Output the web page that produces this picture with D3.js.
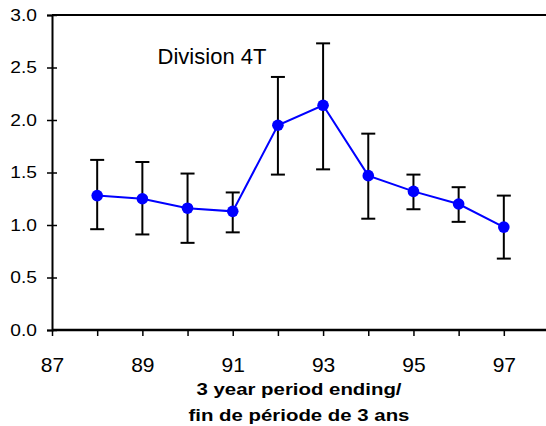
<!DOCTYPE html>
<html>
<head>
<meta charset="utf-8">
<script src="https://cdn.jsdelivr.net/npm/d3@7"></script>
<style>
  body { margin: 0; background: #fff; }
  text { font-family: "Liberation Sans", Arial, sans-serif; fill: #000; }
</style>
</head>
<body>
<div id="container"></div>
<script>
const years = [88, 89, 90, 91, 92, 93, 94, 95, 96, 97];
const values = [1.28, 1.25, 1.16, 1.13, 1.95, 2.14, 1.47, 1.32, 1.20, 0.98];
const upper = [1.62, 1.60, 1.49, 1.31, 2.41, 2.73, 1.87, 1.48, 1.36, 1.28];
const lower = [0.96, 0.91, 0.83, 0.93, 1.48, 1.53, 1.06, 1.15, 1.03, 0.68];
const yTicks = [0, 0.5, 1.0, 1.5, 2.0, 2.5, 3.0];
const xTicks = [87, 88, 89, 90, 91, 92, 93, 94, 95, 96, 97, 98];
const title = 'Division 4T';
const xTitle = ['3 year period ending/', 'fin de période de 3 ans'];

const width = 546;
const height = 426;
const plotLeft = 52;
const plotTop = 15;
const plotBottom = 330;

const data = years.map((yr, i) => ({ year: yr, value: values[i], hi: upper[i], lo: lower[i] }));

const x = d3.scaleLinear().domain([87, 98]).range([plotLeft, 549]);
const y = d3.scaleLinear().domain([0, 3]).range([plotBottom, plotTop]);

const svg = d3.select('#container').append('svg')
    .attr('width', width)
    .attr('height', height);

// top frame line
svg.append('line')
    .attr('x1', plotLeft).attr('x2', width)
    .attr('y1', plotTop).attr('y2', plotTop)
    .style('stroke', '#000').style('stroke-width', 2);

// y axis
const yAxis = svg.append('g')
    .attr('transform', `translate(${plotLeft} 0)`)
    .call(d3.axisLeft(y).tickValues(yTicks).tickSize(5).tickPadding(10).tickFormat(d3.format('.1f')));
yAxis.select('.domain').style('stroke-width', 2);
yAxis.selectAll('.tick line').attr('x1', 5).style('stroke-width', 1.5);
yAxis.selectAll('.tick text')
    .attr('x', -15 / 1.2)
    .attr('transform', 'scale(1.2 1)')
    .style('font-size', '16px');

// x axis
const xAxis = svg.append('g')
    .attr('transform', `translate(0 ${plotBottom})`)
    .call(d3.axisBottom(x).tickValues(xTicks).tickSize(6).tickPadding(21)
        .tickFormat((d) => d % 2 === 1 && d < 98 ? d : ''));
xAxis.select('.domain').attr('d', `M${plotLeft},0H${width}`).style('stroke-width', 2.5);
xAxis.selectAll('.tick line').style('stroke-width', 1.5);
xAxis.selectAll('.tick text').style('font-size', '21px');

// error bars
const err = svg.append('g').selectAll('g').data(data).enter().append('g')
    .style('stroke', '#000').style('stroke-width', 2);
err.append('line')
    .attr('x1', (d) => x(d.year)).attr('x2', (d) => x(d.year))
    .attr('y1', (d) => y(d.hi)).attr('y2', (d) => y(d.lo));
err.append('line')
    .attr('x1', (d) => x(d.year) - 7).attr('x2', (d) => x(d.year) + 7)
    .attr('y1', (d) => y(d.hi)).attr('y2', (d) => y(d.hi));
err.append('line')
    .attr('x1', (d) => x(d.year) - 7).attr('x2', (d) => x(d.year) + 7)
    .attr('y1', (d) => y(d.lo)).attr('y2', (d) => y(d.lo));

// line + markers
svg.append('path')
    .datum(data)
    .attr('d', d3.line().x((d) => x(d.year)).y((d) => y(d.value)))
    .style('fill', 'none')
    .style('stroke', '#0000ff')
    .style('stroke-width', 2);

svg.append('g').selectAll('circle').data(data).enter().append('circle')
    .attr('cx', (d) => x(d.year))
    .attr('cy', (d) => y(d.value))
    .attr('r', 5.8)
    .style('fill', '#0000ff');

// title
svg.append('text')
    .attr('x', 212).attr('y', 64)
    .attr('text-anchor', 'middle')
    .style('font-size', '22px')
    .text(title);

// x axis title
svg.append('g').selectAll('text').data(xTitle).enter().append('text')
    .attr('transform', (d, i) => `translate(299 ${395 + i * 26}) scale(1.2 1)`)
    .attr('text-anchor', 'middle')
    .style('font-size', '17px')
    .style('font-weight', 'bold')
    .text((d) => d);
</script>
</body>
</html>
